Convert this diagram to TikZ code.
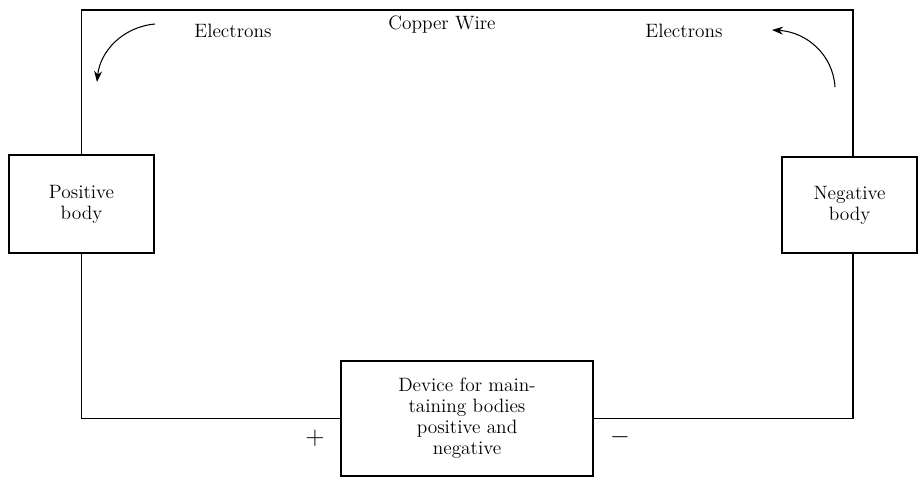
\documentclass[tikz,border=0pt]{standalone}
\usepackage{tikz}
\usetikzlibrary{arrows.meta,positioning,calc}

\begin{document}
\begin{tikzpicture}[x=0.02cm, y=-0.02cm,
  every node/.style={font=\fontsize{11}{12}\selectfont},
  box/.style={draw, rectangle, line width=0.8pt, inner sep=0pt, align=center,
    fill=white},
  wire/.style={line width=0.8pt},
  flow/.style={-{Stealth[length=2.2mm, width=1.6mm]}, line width=0.6pt},
]
\useasboundingbox (0,0) rectangle (918,477);
% bodies and device
\node[box, minimum width=145*0.02cm, minimum height=98*0.02cm] (pos) at (81.5,204) {Positive\\body};
\node[box, minimum width=135*0.02cm, minimum height=96*0.02cm] (neg) at (849.5,205) {Negative\\body};
\node[box, minimum width=252*0.02cm, minimum height=115*0.02cm] (dev) at (467,418.5)
  {Device for main-\\taining bodies\\positive and\\negative};
% copper wire
\coordinate (tl) at (81.5,10);
\coordinate (tr) at (853,10);
\draw[wire] (pos.north) -- (tl) -- (tr) -- (tr |- neg.north);
\draw[wire] (pos.south) |- (dev.west);
\draw[wire] (tr |- neg.south) |- (dev.east);
% labels
\node (ew) at (233,31) {Electrons};
\node (cw) at (442,25) {Copper Wire};
\node (ee) at (684,31) {Electrons};
\node[font=\Large] (plus) at (315,438) {$+$};
\node[font=\Large] (minus) at (620,437) {$-$};
% electron flow
\coordinate (a1) at (155,24);
\coordinate (a2) at (97,82);
\coordinate (b1) at (835,87);
\coordinate (b2) at (772,30);
\draw[flow] (a1) .. controls (122,27) and (100,52) .. (a2);
\draw[flow] (b1) .. controls (833,55) and (807,32) .. (b2);
\end{tikzpicture}
\end{document}
